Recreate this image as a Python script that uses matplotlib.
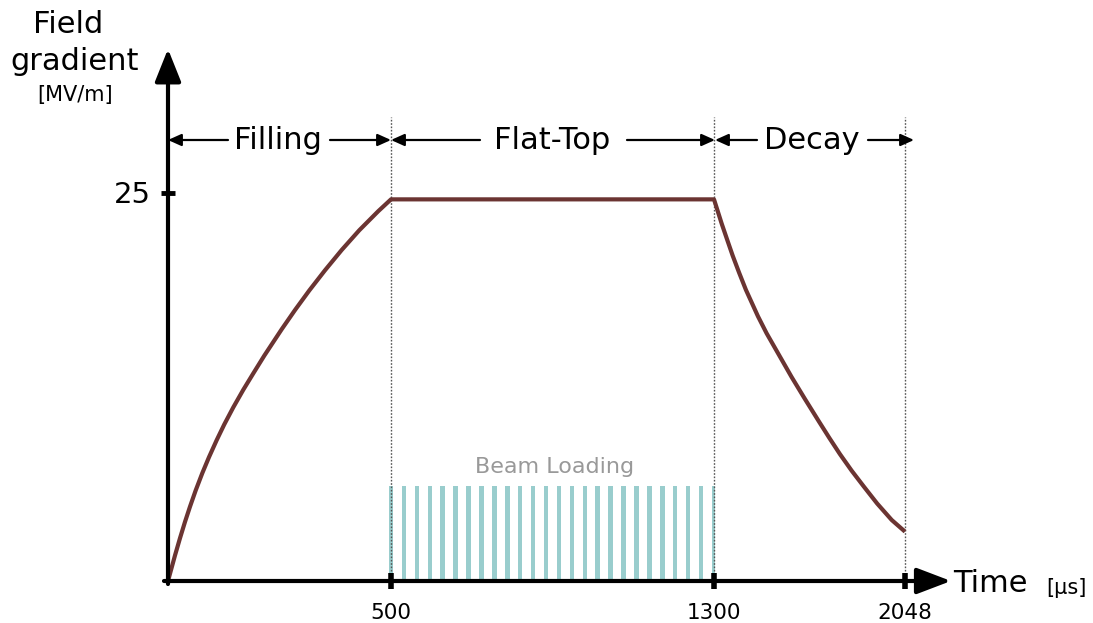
import numpy as np
import matplotlib
matplotlib.use('Agg')
import matplotlib.pyplot as plt

# ---------------- data ----------------
phase_names = ['Filling', 'Flat-Top', 'Decay']
phase_bounds = [0, 500, 1300, 2048]          # µs
tick_values = [500, 1300, 2048]
tick_labels = ['500', '1300', '2048']
y_tick_value = 25
y_tick_label = '25'

fill_t = [0, 15.7, 26.9, 38.1, 49.3, 62.1, 76.9, 91.9, 109.2, 126.2, 146.4,
          168.8, 191.3, 215.9, 254.9, 284.8, 316.8, 352.0, 389.5, 428.9,
          471.5, 500]
fill_v = [0, 1.65, 2.76, 3.81, 4.79, 5.84, 6.95, 7.98, 9.08, 10.09, 11.19,
          12.32, 13.38, 14.52, 16.22, 17.46, 18.72, 20.02, 21.33, 22.60,
          23.83, 24.59]
flat_t = [500, 1300]
flat_v = [24.59, 24.59]
decay_t = [1300, 1330, 1352, 1373, 1398, 1425, 1472, 1506, 1604, 1656, 1712,
           1752, 1793, 1839, 1887, 1939, 1996, 2048]
decay_v = [24.59, 23.03, 21.97, 20.97, 19.88, 18.76, 17.06, 15.96, 13.14,
           11.73, 10.25, 9.21, 8.18, 7.11, 6.08, 4.99, 3.93, 3.18]

beam_t = [500, 532, 564, 596, 628, 660, 692, 724, 756, 788, 820, 852, 884,
          916, 948, 980, 1012, 1044, 1076, 1108, 1140, 1172, 1204, 1236,
          1268, 1300]
beam_level = 6.1
beam_label = 'Beam Loading'

# ---------------- schematic (piecewise-linear) time scale ----------------
SEG_T = [0, 500, 1300, 2048]
SEG_PX = [0, 223, 546, 737]


def _extend(a, b):
    lo = (b[1] - b[0]) / (a[1] - a[0])
    hi = (b[-1] - b[-2]) / (a[-1] - a[-2])
    big = 1e6
    return ([a[0] - big] + a + [a[-1] + big],
            [b[0] - big * lo] + b + [b[-1] + big * hi])


KT, KS = _extend(SEG_T, SEG_PX)


def fwd(t):
    return np.interp(np.asarray(t, dtype=float), KT, KS)


def inv(s):
    return np.interp(np.asarray(s, dtype=float), KS, KT)


W, H = 1093, 623
X0, Y0 = 168, 581          # pixel position of origin
PX_PER_V = 15.52


def px2t(px):
    return float(inv(px - X0))


def py2v(py):
    return (Y0 - py) / PX_PER_V


fig = plt.figure(figsize=(W / 100, H / 100), dpi=100)
ax = fig.add_axes([0, 0, 1, 1])
ax.set_xscale('function', functions=(fwd, inv))
ax.set_xlim(px2t(0), px2t(W))
ax.set_ylim(py2v(H), py2v(0))
ax.axis('off')

# beam loading pulses
ax.bar(beam_t, beam_level, width=11, color='#99cdcd', zorder=1)
ax.text(px2t(555), py2v(473), beam_label, ha='center', va='baseline',
        fontsize=16, color='#999999')

# dotted boundaries
for b in phase_bounds[1:]:
    ax.plot([b, b], [0, py2v(117)], color='#555555', lw=1,
            ls=(0, (1.2, 1.2)), zorder=2)

# field curve
curve_t = fill_t + flat_t[1:] + decay_t[1:]
curve_v = fill_v + flat_v[1:] + decay_v[1:]
ax.plot(curve_t, curve_v, color='#6b3432', lw=3, solid_joinstyle='round',
        solid_capstyle='butt', zorder=3)

# axes with arrows
ax.annotate('', xy=(px2t(951), 0), xytext=(px2t(164), 0),
            arrowprops=dict(arrowstyle='-|>,head_length=21,head_width=8',
                            mutation_scale=1, lw=3, color='black',
                            shrinkA=0, shrinkB=0), zorder=5)
ax.annotate('', xy=(0, py2v(49)), xytext=(0, py2v(584)),
            arrowprops=dict(arrowstyle='-|>,head_length=20,head_width=8',
                            mutation_scale=1, lw=3, color='black',
                            shrinkA=0, shrinkB=0), zorder=5)

# tick marks
ax.plot(tick_values, [0] * len(tick_values), ls='none', marker='|',
        ms=11, mew=4, color='black', zorder=6)
ax.plot([0], [y_tick_value], ls='none', marker='_', ms=10, mew=3.5,
        color='black', zorder=6)

for tv, tl in zip(tick_values, tick_labels):
    ax.text(tv, py2v(619), tl, ha='center', va='baseline', fontsize=15.5)
ax.text(px2t(151), py2v(203), y_tick_label, ha='right', va='baseline',
        fontsize=21)

# axis titles
ax.text(px2t(953), py2v(592), 'Time', ha='left', va='baseline', fontsize=22)
ax.text(px2t(1046), py2v(594), '[µs]', ha='left', va='baseline', fontsize=15)
ax.text(px2t(68), py2v(33), 'Field', ha='center', va='baseline', fontsize=22)
ax.text(px2t(75), py2v(70), 'gradient', ha='center', va='baseline',
        fontsize=22)
ax.text(px2t(75), py2v(101), '[MV/m]', ha='center', va='baseline',
        fontsize=15)

# phase annotations
ARROW_Y = py2v(140)
TEXT_Y = py2v(149)


def phase_arrow(px_from, px_to):
    ax.annotate('', xy=(px2t(px_to), ARROW_Y),
                xytext=(px2t(px_from), ARROW_Y),
                arrowprops=dict(arrowstyle='-|>,head_length=8,head_width=3.6',
                                mutation_scale=1, lw=1.6, color='black',
                                shrinkA=0, shrinkB=0), zorder=4)


label_px = [278, 552, 812]
arrow_px = [((228, 168), (330, 391)),
            ((480, 391), (627, 715)),
            ((757, 715), (868, 914))]
for name, lx, (left, right) in zip(phase_names, label_px, arrow_px):
    ax.text(px2t(lx), TEXT_Y, name, ha='center', va='baseline', fontsize=22)
    phase_arrow(*left)
    phase_arrow(*right)

fig.savefig('out.png', dpi=100)
